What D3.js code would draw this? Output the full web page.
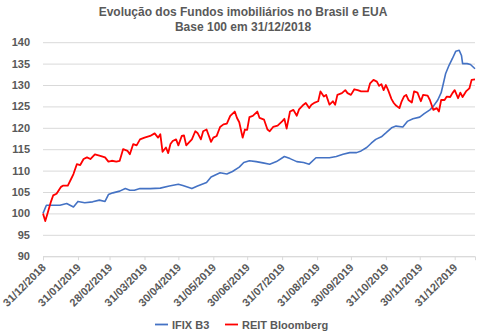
<!DOCTYPE html>
<html>
<head>
<meta charset="utf-8">
<script src="https://cdn.jsdelivr.net/npm/d3@7"></script>
<style>
  html, body { margin: 0; padding: 0; background: #fff; }
  svg { display: block; }
  text { font-family: "Liberation Sans", Arial, sans-serif; fill: #595959; font-weight: bold; }
</style>
</head>
<body>
<svg id="chart" width="480" height="333"></svg>
<script>
// ---- Data (day offsets from 31/12/2018, index values base 100) ----
const baseDate = "31/12/2018";
const endDay = 383;
const titleLines = ["Evolução dos Fundos imobiliários no Brasil e EUA", "Base 100 em 31/12/2018"];
const seriesNames = ["IFIX B3", "REIT Bloomberg"];
const seriesColors = ["#4472C4", "#FF0000"];
const yTicks = [90, 95, 100, 105, 110, 115, 120, 125, 130, 135, 140];
const xTickLabels = ["31/12/2018", "31/01/2019", "28/02/2019", "31/03/2019", "30/04/2019", "31/05/2019",
  "30/06/2019", "31/07/2019", "31/08/2019", "30/09/2019", "31/10/2019", "30/11/2019", "31/12/2019"];

const ifixDays = [0, 3, 9, 15, 21, 27, 31, 37, 44, 50, 55, 58, 62, 68, 73, 77, 81, 86, 95, 104, 112, 120, 124, 132,
  137, 145, 149, 157, 163, 168, 174, 178, 183, 189, 195, 201, 207, 214, 219, 225, 231, 236, 242, 248, 254, 260, 266,
  272, 278, 282, 287, 291, 295, 300, 304, 309, 313, 319, 323, 328, 334, 338, 343, 346, 350, 353, 355, 357, 360, 363,
  366, 369, 371, 372, 376, 379, 383];
const ifixValues = [100.0, 101.9, 101.9, 101.9, 102.3, 101.5, 102.8, 102.5, 102.7, 103.1, 102.8, 104.4, 104.8, 105.2,
  105.8, 105.4, 105.4, 105.8, 105.8, 105.9, 106.4, 106.8, 106.5, 105.8, 106.4, 107.2, 108.5, 109.5, 109.2, 109.8,
  110.8, 111.9, 112.3, 112.1, 111.8, 111.5, 112.1, 113.3, 112.8, 112.1, 111.9, 111.5, 113.0, 113.0, 113.0, 113.3,
  113.8, 114.2, 114.2, 114.6, 115.4, 116.4, 117.3, 117.9, 118.8, 120.0, 120.4, 120.2, 121.5, 122.1, 122.5, 123.3,
  124.2, 125.0, 126.5, 128.2, 130.4, 132.7, 134.6, 136.2, 137.9, 138.1, 136.9, 135.0, 135.0, 134.8, 133.8];

const reitDays = [0, 2, 4, 7, 9, 12, 16, 18, 22, 25, 27, 30, 33, 36, 39, 42, 46, 50, 55, 58, 61, 65, 68, 71, 75, 77,
  80, 83, 86, 90, 95, 99, 102, 104, 106, 109, 111, 113, 115, 118, 120, 123, 125, 127, 132, 135, 137, 140, 142, 145,
  149, 151, 154, 157, 160, 163, 166, 170, 172, 174, 177, 179, 181, 183, 186, 190, 192, 196, 199, 201, 204, 208, 212,
  214, 216, 219, 222, 225, 227, 231, 233, 236, 238, 241, 244, 246, 249, 251, 254, 257, 259, 261, 265, 268, 270, 273,
  276, 279, 282, 285, 288, 290, 293, 296, 298, 300, 302, 304, 306, 309, 311, 313, 316, 318, 320, 322, 324, 327, 329,
  332, 335, 337, 341, 343, 346, 349, 351, 353, 356, 358, 361, 363, 365, 368, 370, 372, 375, 378, 380, 383];
const reitValues = [100.0, 98.2, 100.0, 102.7, 104.2, 104.6, 106.2, 106.5, 106.5, 108.1, 109.2, 111.5, 111.3, 112.7,
  113.1, 112.7, 113.8, 113.5, 113.1, 112.1, 112.3, 112.1, 112.3, 115.0, 114.6, 113.8, 116.2, 115.9, 117.3, 117.7,
  118.1, 118.7, 117.7, 118.5, 114.4, 115.4, 114.1, 116.2, 116.9, 117.3, 115.9, 118.1, 118.2, 115.9, 117.3, 119.2,
  118.8, 117.3, 119.2, 119.6, 116.7, 117.7, 118.1, 120.2, 120.8, 121.0, 122.8, 123.8, 122.3, 121.3, 117.7, 119.6,
  119.5, 122.5, 122.8, 123.8, 122.3, 121.9, 119.6, 119.2, 120.2, 120.5, 121.5, 122.1, 119.8, 123.8, 124.2, 122.8,
  124.3, 125.4, 125.8, 124.6, 125.4, 125.9, 126.2, 128.5, 127.3, 127.7, 125.4, 126.2, 125.4, 127.7, 128.1, 128.8,
  128.1, 127.7, 129.0, 128.8, 128.5, 128.5, 128.5, 130.4, 131.2, 130.8, 129.8, 130.2, 128.8, 130.0, 128.8, 126.7,
  125.8, 125.2, 124.6, 126.2, 127.3, 127.7, 126.5, 125.9, 128.5, 128.2, 126.2, 127.7, 127.5, 126.5, 124.2, 124.6,
  123.8, 126.5, 126.5, 127.3, 127.2, 128.1, 128.8, 126.9, 128.2, 127.2, 128.5, 129.2, 131.2, 131.3];

// ---- Chart ----
const parse = d3.timeParse("%d/%m/%Y");
const fmt = d3.timeFormat("%d/%m/%Y");
const t0 = parse(baseDate);
const toDate = d => d3.timeDay.offset(t0, d);

const svg = d3.select("#chart");
const x = d3.scaleTime().domain([t0, toDate(endDay)]).range([43, 475]);
const y = d3.scaleLinear().domain([90, 140]).range([256.2, 42.2]);

// Title
svg.append("g").selectAll("text").data(titleLines).join("text")
  .attr("x", 243).attr("y", (d, i) => 16 + i * 14.5)
  .attr("text-anchor", "middle").style("font-size", "12px")
  .text(d => d);

// Gridlines
const yAxis = d3.axisLeft(y).tickValues(yTicks).tickSize(-(475 - 43)).tickPadding(13).tickFormat(d3.format("d"));
const gy = svg.append("g").attr("transform", "translate(43,0)").call(yAxis);
gy.select(".domain").remove();
gy.selectAll(".tick line").attr("stroke", "#D9D9D9").attr("stroke-width", 1);
gy.selectAll(".tick text").style("font-size", "11px").attr("fill", "#595959");

// X axis ticks and rotated labels
const xTicks = xTickLabels.map(parse);
const xAxis = d3.axisBottom(x).tickValues(xTicks).tickSize(4).tickFormat(fmt);
const gx = svg.append("g").attr("transform", `translate(0,${y(90)})`).call(xAxis);
gx.select(".domain").attr("stroke", "#D9D9D9");
gx.selectAll(".tick line").attr("stroke", "#D9D9D9");
gx.selectAll(".tick text")
  .style("font-size", "11px").attr("fill", "#595959")
  .attr("text-anchor", "end")
  .attr("y", 0).attr("dy", 0)
  .attr("transform", "translate(3,12) rotate(-45)");

// Lines
const line = d3.line().x(d => x(toDate(d[0]))).y(d => y(d[1]));
const series = [
  { days: ifixDays, values: ifixValues },
  { days: reitDays, values: reitValues }
];
svg.append("g").selectAll("path").data(series).join("path")
  .attr("fill", "none")
  .attr("stroke", (d, i) => seriesColors[i])
  .attr("stroke-width", (d, i) => i === 0 ? 1.6 : 1.8)
  .attr("stroke-linejoin", "round")
  .attr("d", d => line(d.days.map((v, i) => [v, d.values[i]])));

// Legend
const legendX = [155, 225];
const lg = svg.append("g");
seriesNames.forEach((name, i) => {
  lg.append("line").attr("x1", legendX[i]).attr("x2", legendX[i] + 13)
    .attr("y1", 324.5).attr("y2", 324.5)
    .attr("stroke", seriesColors[i]).attr("stroke-width", 1.8);
  lg.append("text").attr("x", legendX[i] + 17).attr("y", 328.5)
    .style("font-size", "11px").text(name);
});
</script>
</body>
</html>
